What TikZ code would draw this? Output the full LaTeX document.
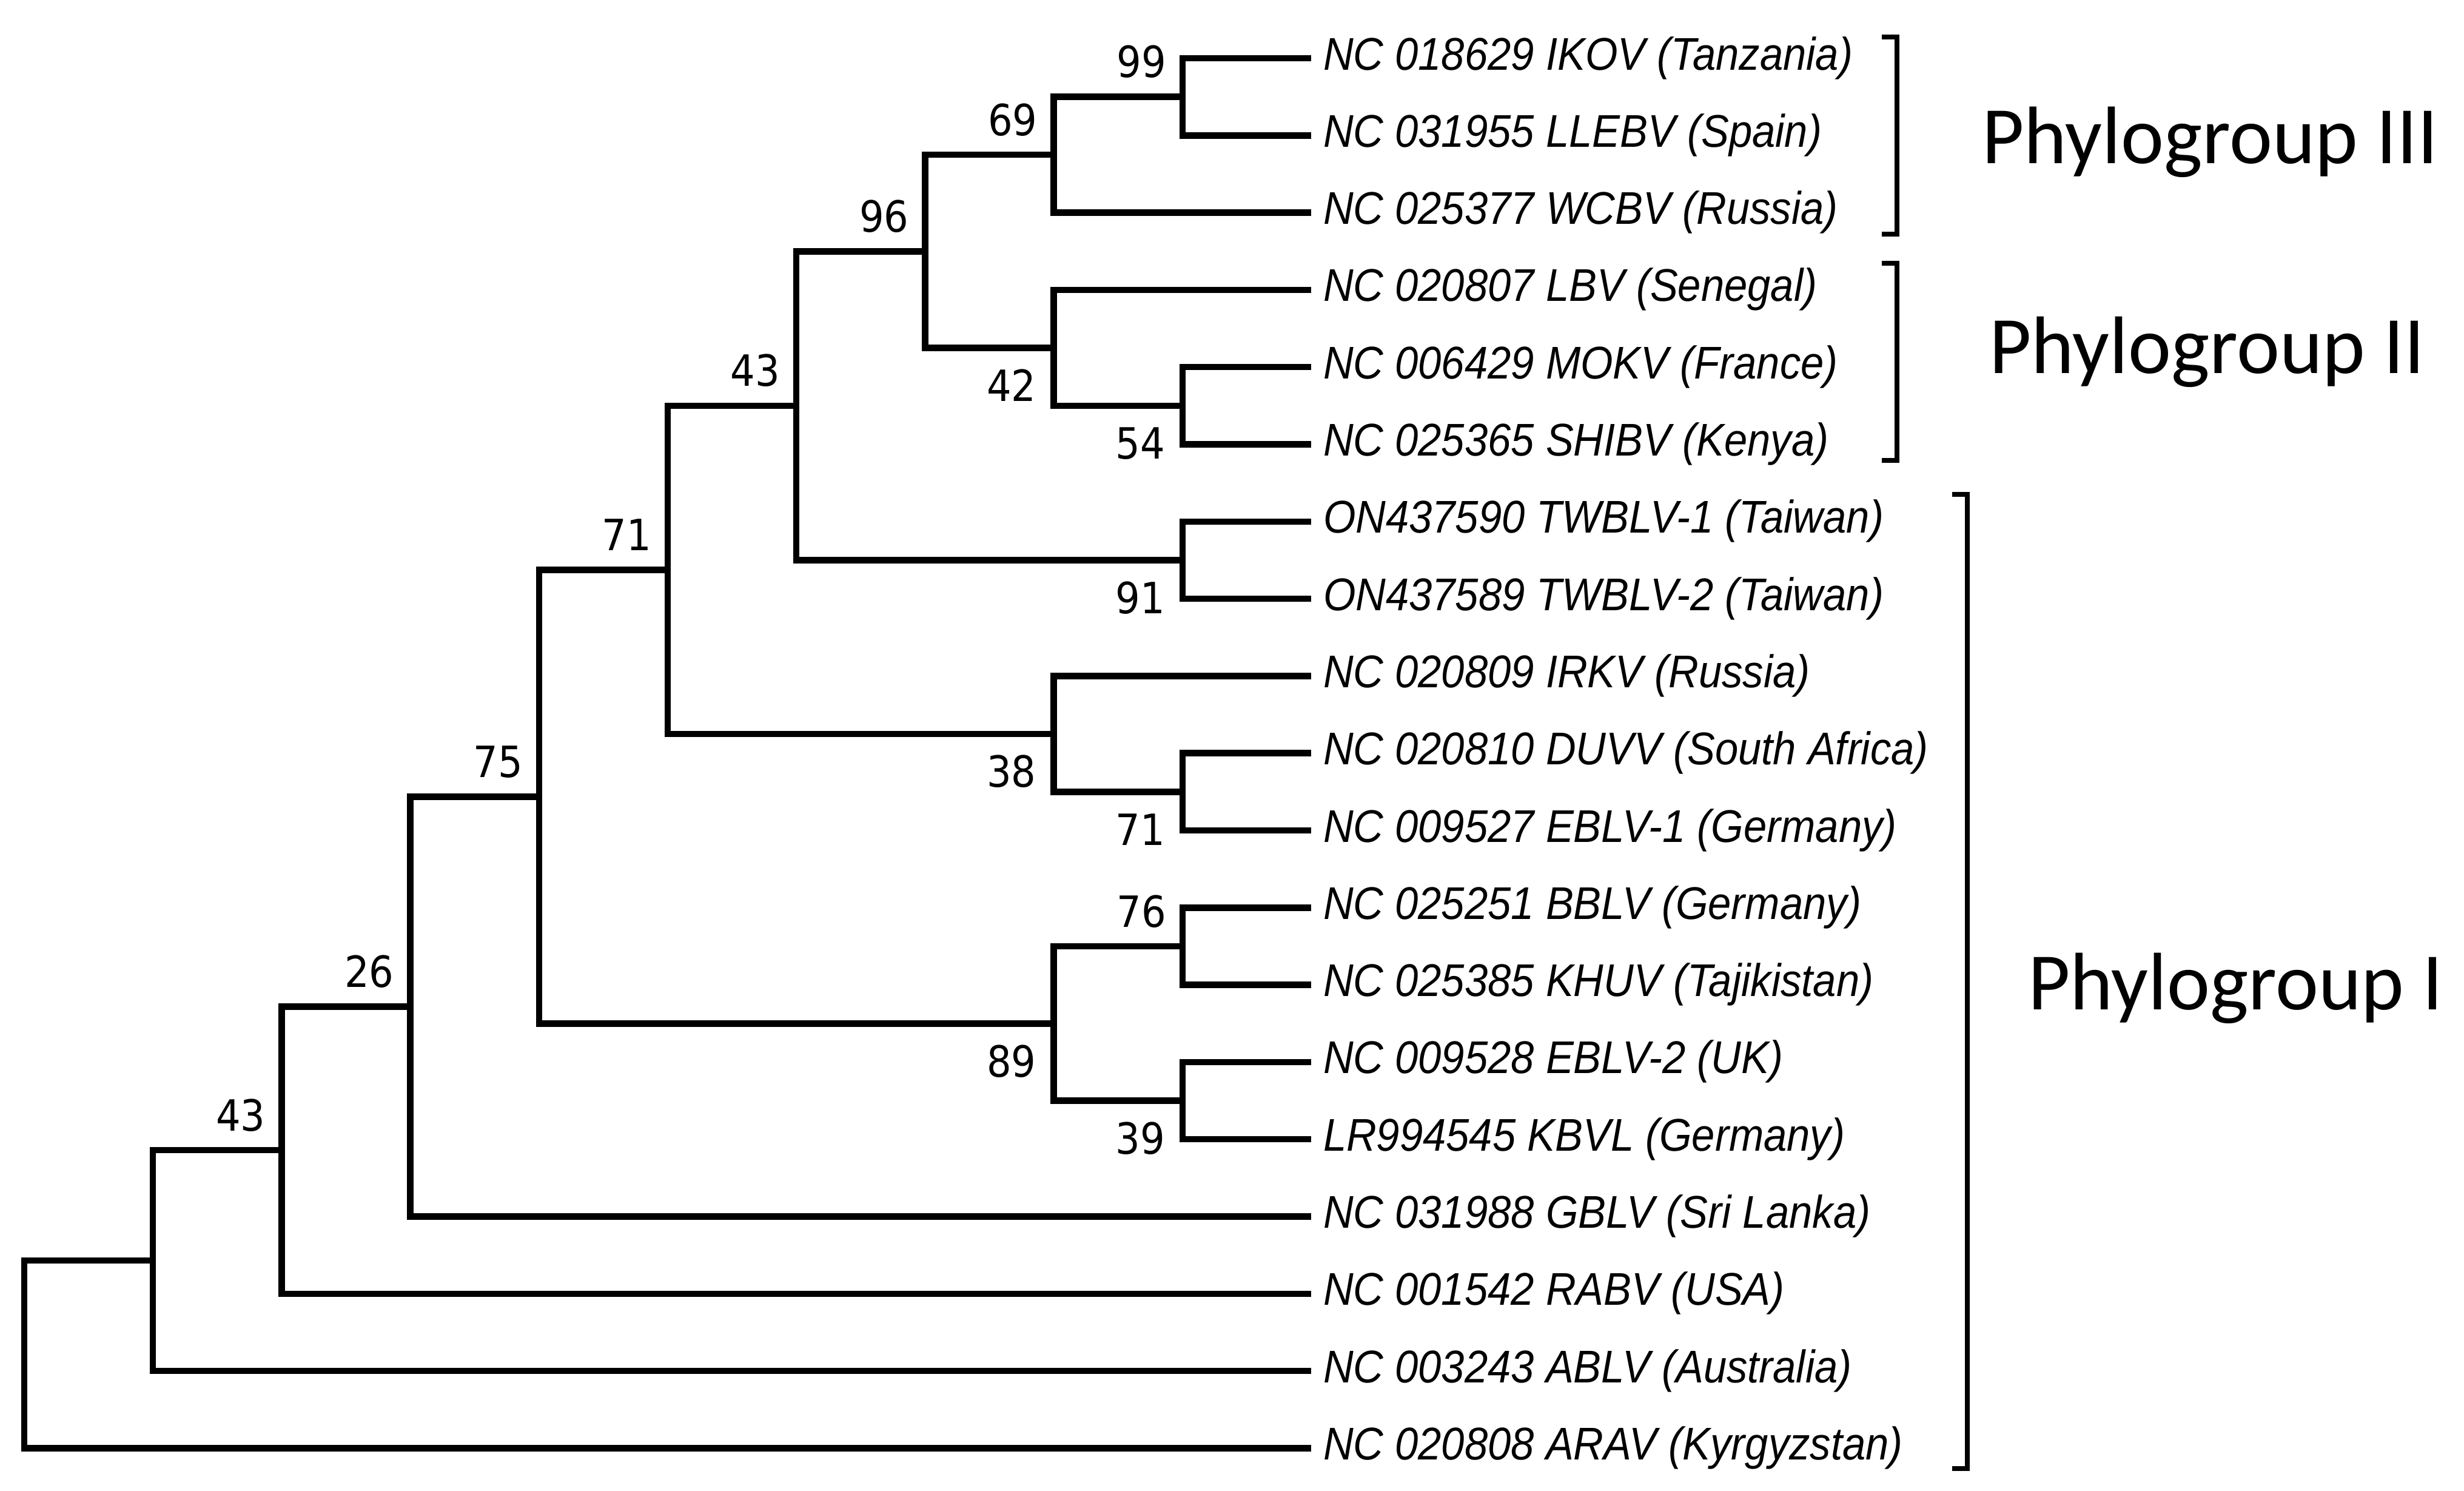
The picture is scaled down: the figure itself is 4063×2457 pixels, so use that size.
\documentclass[tikz,border=0pt]{standalone}
\usepackage{fontspec}
\newfontfamily\leaffont{Liberation Sans}[FakeStretch=0.91]
\newfontfamily\bsfont{DejaVu Sans}[FakeStretch=0.9]
\newfontfamily\grpfont{Carlito}
\usetikzlibrary{calc}
\begin{document}
\begin{tikzpicture}[x=0.1pt,y=-0.1pt,
  branch/.style={line width=1.05pt, line join=miter},
  brk/.style={line width=0.8pt, line join=miter},
  leaflab/.style={anchor=base west, inner sep=0pt, font=\leaffont\itshape\fontsize{7.56}{9}\selectfont},
  bs/.style={anchor=base east, inner sep=0pt, font=\bsfont\fontsize{7.1}{8}\selectfont},
  grp/.style={anchor=base west, inner sep=0pt, font=\grpfont\fontsize{13.45}{15}\selectfont}]
\useasboundingbox (0,0) rectangle (4063,2457);

% leaves
\foreach \i/\t in {0/{NC 018629 IKOV (Tanzania)},
                   1/{NC 031955 LLEBV (Spain)},
                   2/{NC 025377 WCBV (Russia)},
                   3/{NC 020807 LBV (Senegal)},
                   4/{NC 006429 MOKV (France)},
                   5/{NC 025365 SHIBV (Kenya)},
                   6/{ON437590 TWBLV-1 (Taiwan)},
                   7/{ON437589 TWBLV-2 (Taiwan)},
                   8/{NC 020809 IRKV (Russia)},
                   9/{NC 020810 DUVV (South Africa)},
                   10/{NC 009527 EBLV-1 (Germany)},
                   11/{NC 025251 BBLV (Germany)},
                   12/{NC 025385 KHUV (Tajikistan)},
                   13/{NC 009528 EBLV-2 (UK)},
                   14/{LR994545 KBVL (Germany)},
                   15/{NC 031988 GBLV (Sri Lanka)},
                   16/{NC 001542 RABV (USA)},
                   17/{NC 003243 ABLV (Australia)},
                   18/{NC 020808 ARAV (Kyrgyzstan)}}{
  \coordinate (t\i) at (2162,{96+127.3*\i});
  \node[leaflab] (n\i) at (2180,{115+127.3*\i}) {\t};
}

% internal nodes
\coordinate (A) at (1949.8,159.65);
\coordinate (B) at (1737.6,255.1);
\coordinate (E) at (1949.8,668.85);
\coordinate (D) at (1737.6,573.4);
\coordinate (C) at (1525.4,414.25);
\coordinate (F) at (1949.8,923.45);
\coordinate (G) at (1313.2,668.85);
\coordinate (J) at (1949.8,1305.35);
\coordinate (I) at (1737.6,1209.9);
\coordinate (H) at (1101,939.4);
\coordinate (K) at (1949.8,1560);
\coordinate (L) at (1949.8,1814.6);
\coordinate (M) at (1737.6,1687.3);
\coordinate (N) at (888.8,1313.3);
\coordinate (O) at (676.6,1659.4);
\coordinate (P) at (464.4,1896.1);
\coordinate (Q) at (252.2,2078.1);
\coordinate (R) at (40,2232.7);

% branches
\draw[branch] (t0) -| (A) |- (t1);
\draw[branch] (A) -| (B) |- (t2);
\draw[branch] (t4) -| (E) |- (t5);
\draw[branch] (t3) -| (D) |- (E);
\draw[branch] (B) -| (C) |- (D);
\draw[branch] (t6) -| (F) |- (t7);
\draw[branch] (C) -| (G) |- (F);
\draw[branch] (t9) -| (J) |- (t10);
\draw[branch] (t8) -| (I) |- (J);
\draw[branch] (G) -| (H) |- (I);
\draw[branch] (t11) -| (K) |- (t12);
\draw[branch] (t13) -| (L) |- (t14);
\draw[branch] (K) -| (M) |- (L);
\draw[branch] (H) -| (N) |- (M);
\draw[branch] (N) -| (O) |- (t15);
\draw[branch] (O) -| (P) |- (t16);
\draw[branch] (P) -| (Q) |- (t17);
\draw[branch] (Q) -| (R) |- (t18);

% bootstrap values (above / below)
\node[bs] (bA) at ($(A)+(-25,-32)$) {99};
\node[bs] (bB) at ($(B)+(-25,-32)$) {69};
\node[bs] (bC) at ($(C)+(-25,-32)$) {96};
\node[bs] (bG) at ($(G)+(-25,-32)$) {43};
\node[bs] (bH) at ($(H)+(-25,-32)$) {71};
\node[bs] (bK) at ($(K)+(-25,-32)$) {76};
\node[bs] (bN) at ($(N)+(-25,-32)$) {75};
\node[bs] (bO) at ($(O)+(-25,-32)$) {26};
\node[bs] (bP) at ($(P)+(-25,-32)$) {43};
\node[bs] (bE) at ($(E)+(-27,88)$) {54};
\node[bs] (bD) at ($(D)+(-27,88)$) {42};
\node[bs] (bF) at ($(F)+(-27,88)$) {91};
\node[bs] (bI) at ($(I)+(-27,88)$) {38};
\node[bs] (bJ) at ($(J)+(-27,88)$) {71};
\node[bs] (bL) at ($(L)+(-27,88)$) {39};
\node[bs] (bM) at ($(M)+(-27,88)$) {89};

% brackets
\draw[brk] (3103,61) -- (3128,61) -- (3128,386) -- (3103,386);
\draw[brk] (3103,434) -- (3128,434) -- (3128,759) -- (3103,759);
\draw[brk] (3219,815) -- (3244,815) -- (3244,2421) -- (3219,2421);

% group labels
\node[grp] (g3) at (3266,269) {Phylogroup III};
\node[grp] (g2) at (3278,615) {Phylogroup II};
\node[grp] (g1) at (3342,1664) {Phylogroup I};
\end{tikzpicture}
\end{document}
